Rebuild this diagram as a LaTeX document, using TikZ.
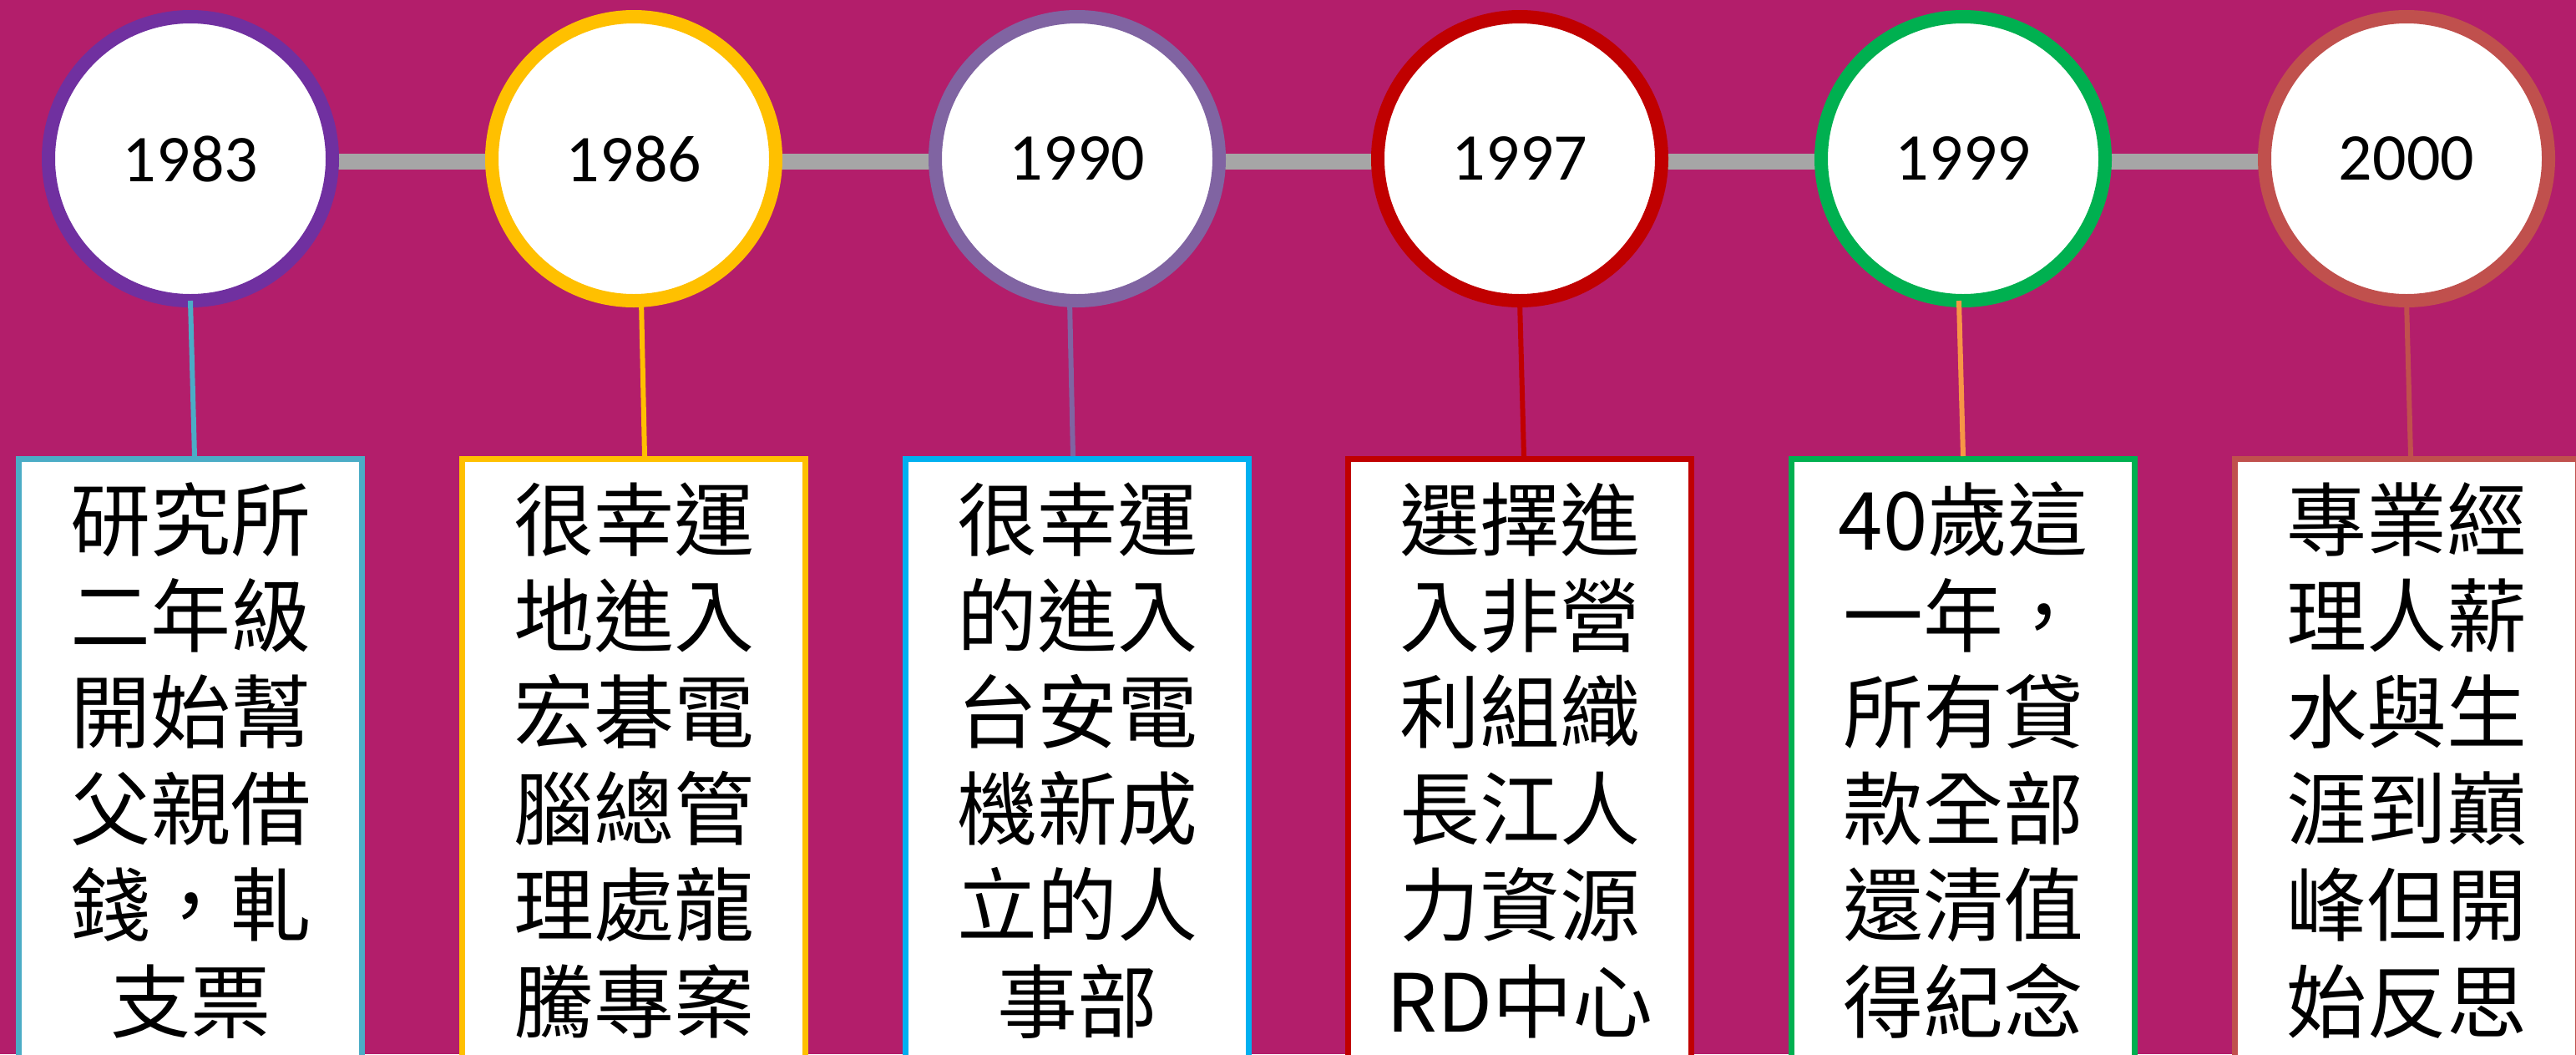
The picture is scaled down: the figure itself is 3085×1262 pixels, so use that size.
\documentclass[tikz,border=0pt]{standalone}
\usepackage{fontspec}
\setmainfont{Carlito}
\newfontfamily\cjk{Noto Sans CJK TC}
\usetikzlibrary{calc}
\definecolor{bgcol}{RGB}{179,30,107}
\definecolor{linegray}{RGB}{166,166,166}
\definecolor{cPurple}{HTML}{7030A0}
\definecolor{cGold}{HTML}{FFC000}
\definecolor{cLav}{HTML}{8064A2}
\definecolor{cRed}{HTML}{C00000}
\definecolor{cGreen}{HTML}{00B050}
\definecolor{cBrick}{HTML}{C0504D}
\definecolor{cTeal}{HTML}{4BACC6}
\definecolor{cSky}{HTML}{00B0F0}
\definecolor{cOrange}{HTML}{F79646}
\pgfdeclarelayer{bglayer}
\pgfsetlayers{bglayer,main}
\tikzset{
  yearc/.style={circle, line width=16pt, fill=white, minimum size=340pt, inner sep=0pt,
    font=\fontsize{80}{96}\selectfont, text=black},
  evbox/.style={rectangle, line width=7pt, fill=white, minimum width=411pt,
    minimum height=800pt, anchor=north, inner sep=0pt},
  conn/.style={line width=6pt},
  txt/.style={anchor=base, inner sep=0pt, font=\cjk\fontsize{96}{115}\selectfont, text=black},
  timeline/.style={draw=linegray, line width=19pt}
}
\newcommand\evt[9]{%
  \node[yearc, draw=#4] (c#1) at (#2,-190) {#3};
  \node[evbox, draw=#6] (b#1) at (#2,-546) {};
  \draw[conn, draw=#5] ($(c#1.south)+(#7,8)$) -- ($(b#1.north)+(#8,0)$);
  \foreach \txtline [count=\k] in {#9}
    \node[txt] (t#1-\k) at (#2,{-658-115.4*(\k-1)}) {\txtline};
}
\begin{document}
\begin{tikzpicture}[x=1pt,y=1pt]
\useasboundingbox (0,0) rectangle (3085,-1262);
\clip (0,0) rectangle (3085,-1262);
\begin{pgfonlayer}{bglayer}
  \fill[bgcol] (0,0) rectangle (3085,-1262);
  \coordinate (ls) at (228,-193.5);
  \coordinate (le) at (2882,-193.5);
  \draw[timeline] (ls) -- (le);
\end{pgfonlayer}
\evt{1}{228}{1983}{cPurple}{cTeal}{cTeal}{0}{5}{研究所,二年級,開始幫,父親借,錢，軋,支票}
\evt{2}{759}{1986}{cGold}{cGold}{cGold}{9}{13}{很幸運,地進入,宏碁電,腦總管,理處龍,騰專案}
\evt{3}{1290}{1990}{cLav}{cLav}{cSky}{-9}{-5}{很幸運,的進入,台安電,機新成,立的人,事部}
\evt{4}{1820}{1997}{cRed}{cRed}{cRed}{0}{5}{選擇進,入非營,利組織,長江人,力資源,RD中心}
\evt{5}{2351}{1999}{cGreen}{cOrange}{cGreen}{-5}{0}{40歲這,一年，,所有貸,款全部,還清值,得紀念}
\evt{6}{2882}{2000}{cBrick}{cBrick}{cBrick}{0}{5}{專業經,理人薪,水與生,涯到巔,峰但開,始反思}
\end{tikzpicture}
\end{document}
